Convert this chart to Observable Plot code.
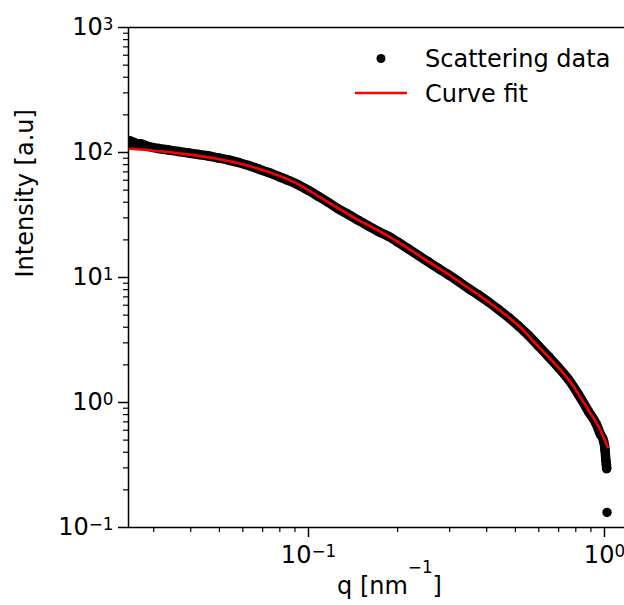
<!DOCTYPE html>
<html>
<head>
<meta charset="utf-8">
<script src="https://cdn.jsdelivr.net/npm/d3@7"></script>
<script src="https://cdn.jsdelivr.net/npm/@observablehq/plot@0.6"></script>
<style>
  body { margin: 0; background: #fff; font-family: "DejaVu Sans", sans-serif; }
  #wrap { position: relative; width: 624px; height: 605px; }
  #legend { position: absolute; left: 0; top: 0; pointer-events: none; }
</style>
</head>
<body>
<div id="wrap"></div>
<script>
// ---- data ----
const q = [0.02465, 0.0249, 0.0252, 0.0256, 0.02665, 0.0270, 0.02880, 0.03113, 0.03365, 0.03637,
  0.03932, 0.04250, 0.04595, 0.04966, 0.05368, 0.05802, 0.06272, 0.06780, 0.07329, 0.07918,
  0.08559, 0.09252, 0.1000, 0.1081, 0.1168, 0.1263, 0.1365, 0.1476, 0.1595, 0.1724,
  0.1864, 0.2014, 0.2177, 0.2353, 0.2544, 0.2750, 0.2972, 0.3212, 0.3472, 0.3753,
  0.4056, 0.4385, 0.4740, 0.5123, 0.5536, 0.5984, 0.6468, 0.6991, 0.7557, 0.8168,
  0.8829, 0.9397, 0.9694, 0.9922, 1.0050, 1.0110, 1.0150, 1.0170, 1.0200];
const intensity = [120.2, 124, 117, 121, 115.9, 117.5, 111.7, 107.6, 104.7, 101.9,
  99.1, 96.4, 93.8, 90.4, 87.1, 83.2, 78.7, 73.8, 69.2, 64.3,
  59.7, 55.0, 49.7, 44.5, 39.8, 35.3, 31.9, 28.6, 25.8, 23.3,
  21.3, 19.05, 16.9, 15.0, 13.3, 11.8, 10.5, 9.29, 8.17, 7.24,
  6.37, 5.55, 4.79, 4.09, 3.44, 2.83, 2.33, 1.905, 1.528, 1.159,
  0.847, 0.667, 0.555, 0.497, 0.413, 0.344, 0.32, 0.296, 0.132];

const fitQ = [0.02465, 0.03694, 0.04851, 0.06519, 0.0918, 0.1098, 0.1386, 0.1892, 0.2446,
  0.3187, 0.4120, 0.5202, 0.5937, 0.6724, 0.7677, 0.8761, 0.9694, 1.025];
const fitI = [107.6, 98.2, 89.5, 76.3, 56.2, 43.5, 31.3, 20.9, 14.2,
  9.46, 6.19, 3.98, 2.86, 2.10, 1.45, 0.895, 0.597, 0.44];

const xDomain = [0.02465, 1.1685];
const yDomain = [0.1, 1000];
const xMajor = [0.1, 1];
const xMajorLabels = ["10^−1", "10^0"];
const xMinor = [0.03, 0.04, 0.05, 0.06, 0.07, 0.08, 0.09, 0.2, 0.3, 0.4, 0.5, 0.6, 0.7, 0.8, 0.9];
const yMajor = [0.1, 1, 10, 100, 1000];
const yMajorLabels = ["10^−1", "10^0", "10^1", "10^2", "10^3"];
const yMinor = [];
for (const d of [0.1, 1, 10, 100]) for (const m of [2,3,4,5,6,7,8,9]) yMinor.push(+(d*m).toPrecision(3));

const xLabel = "q [nm^−1^]";
const yLabel = "Intensity [a.u]";
const legendItems = ["Scattering data", "Curve fit"];

const data = q.map((v, i) => ({q: v, I: intensity[i]}));
const fit = fitQ.map((v, i) => ({q: v, I: fitI[i]}));
const last = data.length - 1;

const chart = Plot.plot({
  width: 624,
  height: 605,
  marginLeft: 128,
  marginRight: 0,
  marginTop: 27,
  marginBottom: 78,
  style: {fontFamily: "DejaVu Sans", fontSize: "24px", background: "white", color: "black"},
  x: {type: "log", domain: xDomain},
  y: {type: "log", domain: yDomain},
  marks: [
    Plot.line(data, {x: "q", y: "I", filter: (d, i) => i < last, stroke: "black", strokeWidth: 9.5,
      curve: "monotone-x", clip: true}),
    Plot.dot(data, {x: "q", y: "I", r: 4.7, fill: "black", stroke: "none", clip: true}),
    Plot.line(fit, {x: "q", y: "I", stroke: "#ff0000", strokeWidth: 2.6, curve: "monotone-x", clip: true}),
    Plot.ruleX([xDomain[0]], {stroke: "black", strokeWidth: 1.5}),
    Plot.ruleY([yDomain[0], yDomain[1]], {stroke: "black", strokeWidth: 1.5}),
    Plot.axisY(yMajor, {anchor: "left", tickSize: 10, tickPadding: 5, strokeWidth: 1.5,
      tickFormat: (d) => yMajorLabels[yMajor.indexOf(d)], label: null, fontSize: 24}),
    Plot.axisY(yMinor, {anchor: "left", tickSize: 5, strokeWidth: 1.2, tickFormat: () => "", label: null}),
    Plot.axisX(xMajor, {anchor: "bottom", tickSize: 10, tickPadding: 8, strokeWidth: 1.5,
      tickFormat: (d) => xMajorLabels[xMajor.indexOf(d)], label: null, fontSize: 24}),
    Plot.axisX(xMinor, {anchor: "bottom", tickSize: 5, strokeWidth: 1.2, tickFormat: () => "", label: null}),
    Plot.text([xLabel], {frameAnchor: "bottom", dx: 13, dy: 66, lineAnchor: "bottom", fontSize: 24, text: (d) => d}),
    Plot.text([yLabel], {frameAnchor: "left", dx: -103, rotate: -90, fontSize: 24, text: (d) => d})
  ]
});

// superscripts (matplotlib mathtext style)
d3.select(chart).selectAll("text").each(function() {
  const s = this.textContent;
  if (!s.includes("^")) return;
  const parts = s.split("^");
  const t = d3.select(this);
  t.text(null);
  if (parts.length === 2) {
    t.append("tspan").text(parts[0]);
    t.append("tspan").attr("font-size", "0.7em").attr("dy", -5.5).text(parts[1]);
  } else {
    t.append("tspan").text(parts[0]);
    t.append("tspan").attr("font-size", "0.7em").attr("dy", -21).text(parts[1]);
    t.append("tspan").attr("dy", 21).text(parts[2]);
  }
});

const wrap = document.getElementById("wrap");
wrap.appendChild(chart);

// legend (overlay)
const lg = d3.select(wrap).append("svg").attr("id", "legend")
  .attr("width", 624).attr("height", 605)
  .style("font-family", "DejaVu Sans").style("font-size", "24px");
lg.append("circle").attr("cx", 381).attr("cy", 58.5).attr("r", 4.5).attr("fill", "black");
lg.append("text").attr("x", 425).attr("y", 67).text(legendItems[0]);
lg.append("line").attr("x1", 355).attr("x2", 407).attr("y1", 93).attr("y2", 93)
  .attr("stroke", "#ff0000").attr("stroke-width", 2.6);
lg.append("text").attr("x", 425).attr("y", 102).text(legendItems[1]);
</script>
</body>
</html>
